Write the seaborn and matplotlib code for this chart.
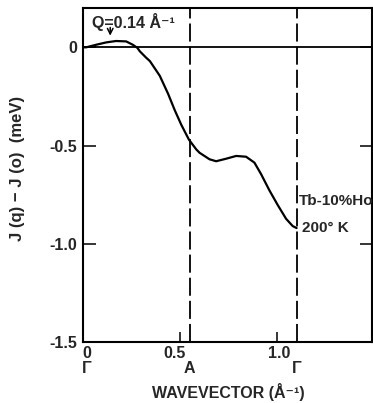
import matplotlib
matplotlib.use("Agg")
import matplotlib.pyplot as plt
import seaborn as sns
import pandas as pd

# Exchange interaction J(q) - J(0) for Tb-10% Ho at 200 K along Γ-A-Γ
wavevector = [0.0, 0.017, 0.068, 0.12, 0.17, 0.222, 0.256, 0.28, 0.292, 0.325,
              0.344, 0.395, 0.438, 0.472, 0.506, 0.545, 0.583, 0.60, 0.651,
              0.685, 0.737, 0.788, 0.839, 0.882, 0.916, 0.959, 1.002, 1.045,
              1.079, 1.099]
j_diff = [0.0, 0.0, 0.013, 0.025, 0.032, 0.03, 0.013, -0.003, -0.02, -0.053,
          -0.07, -0.145, -0.237, -0.32, -0.395, -0.47, -0.52, -0.537, -0.57,
          -0.58, -0.567, -0.553, -0.557, -0.587, -0.645, -0.728, -0.803,
          -0.873, -0.91, -0.92]

y_ticks = [0.0, -0.5, -1.0, -1.5]
y_tick_labels = ["0", "-0.5", "-1.0", "-1.5"]
x_ticks = [0.0, 0.5, 1.0]
x_tick_labels = ["0", "0.5", "1.0"]
zone_points = [0.0, 0.549, 1.099]
zone_labels = ["Γ", "A", "Γ"]
q_peak = 0.14

df = pd.DataFrame({"q": wavevector, "J": j_diff})

sns.set_style("ticks")
plt.rcParams["font.family"] = ["Liberation Sans", "DejaVu Sans"]
plt.rcParams["font.weight"] = "bold"

fig = plt.figure(figsize=(3.73, 4.03), dpi=100)
ax = fig.add_axes([83 / 373, 1 - 342 / 403, (372 - 83) / 373, (342 - 8) / 403])

sns.lineplot(data=df, x="q", y="J", ax=ax, color="black", lw=1.6, sort=False)

ax.axhline(0, color="black", lw=1.3)
for xp in zone_points[1:]:
    ax.axvline(xp, color="black", lw=1.3, linestyle=(0, (10, 2.8)))

ax.set_xlim(0, 1.487)
ax.set_ylim(-1.5, 0.2)

for s in ax.spines.values():
    s.set_linewidth(1.5)
    s.set_color("black")

ax.set_yticks(y_ticks, y_tick_labels, fontsize=11.5)
ax.tick_params(axis="y", direction="in", length=9, width=1.3, pad=4,
               right=True, labelright=False)
ax.set_xticks(x_ticks, ["", "", ""])
ax.tick_params(axis="x", direction="in", length=7, width=1.3)

trans = ax.get_xaxis_transform()
for xp, lab in zip(x_ticks, x_tick_labels):
    off = 0.02 if xp == 0 else (-0.03 if xp == 0.5 else 0.01)
    ax.text(xp + off, -0.011, lab, transform=trans, ha="center", va="top",
            fontsize=11.5)
for xp, lab in zip(zone_points, zone_labels):
    off = 0.02 if xp == 0 else 0.0
    ax.text(xp + off, -0.058, lab, transform=trans, ha="center", va="top",
            fontsize=11.5)

ax.set_xlabel("")
ax.set_ylabel("")
fig.text(0.613, 1 - 392 / 403, "WAVEVECTOR (Å⁻¹)", ha="center", va="center",
         fontsize=11.5)
fig.text(18 / 373, 1 - 168 / 403, "J (q) − J (o)  (meV)", ha="center",
         va="center", rotation=90, fontsize=12)

ax.annotate("", xy=(q_peak, 0.045), xytext=(q_peak, 0.115),
            arrowprops=dict(arrowstyle="->", color="black", lw=1.1))
ax.text(0.045, 0.128, "Q=0.14 Å⁻¹", fontsize=11.5, ha="left", va="center")

ax.text(1.11, -0.78, "Tb-10%Ho", fontsize=11, ha="left", va="center")
ax.text(1.125, -0.92, "200° K", fontsize=11, ha="left", va="center")

fig.savefig("out.png", dpi=100)
